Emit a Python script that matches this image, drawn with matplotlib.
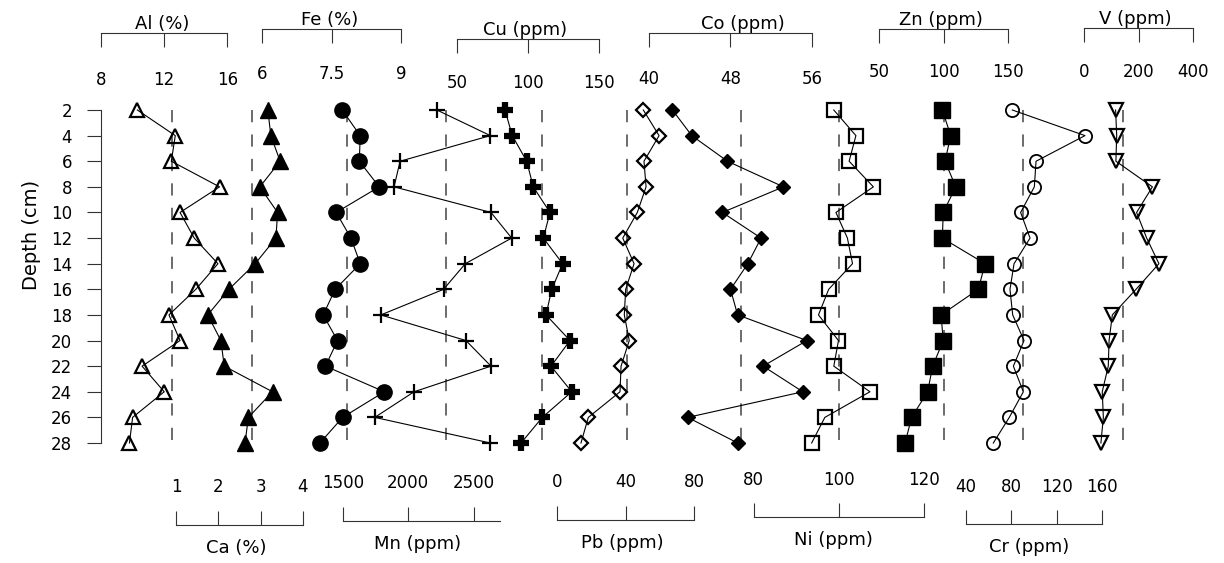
import matplotlib.pyplot as plt

# depth of each sample (cm)
depth = [2, 4, 6, 8, 10, 12, 14, 16, 18, 20, 22, 24, 26, 28]

al = [10.3, 12.7, 12.45, 15.5, 13.0, 13.9, 15.4, 14.0, 12.3, 13.0, 10.6, 12.0, 10.0, 9.8]
ca = [3.17, 3.24, 3.46, 2.98, 3.40, 3.36, 2.87, 2.25, 1.75, 2.06, 2.14, 3.28, 2.71, 2.63]
fe = [7.73, 8.12, 8.10, 8.53, 7.60, 7.92, 8.12, 7.58, 7.32, 7.63, 7.37, 8.64, 7.74, 7.25]
mn = [2219, 2627, 1938, 1892, 2632, 2790, 2436, 2270, 1791, 2441, 2632, 2045, 1745, 2627]
cu = [83.8, 88.9, 99.1, 103.7, 115.5, 110.8, 124.4, 116.7, 112.7, 129.6, 116.2, 130.8, 110.1, 95.1]
pb = [50.4, 59.6, 50.8, 52.0, 46.9, 38.4, 45.0, 40.1, 39.3, 42.2, 37.4, 36.8, 18.3, 14.0]
co = [42.3, 44.2, 47.7, 53.2, 47.2, 51.0, 49.7, 48.0, 48.7, 55.5, 51.2, 55.1, 43.8, 48.7]
ni = [98.8, 104.0, 102.4, 108.1, 99.3, 102.0, 103.2, 97.6, 95.2, 99.9, 98.8, 107.3, 96.7, 93.6]
zn = [99.1, 105.6, 101.2, 109.5, 99.8, 99.1, 132.2, 127.0, 98.1, 99.8, 91.6, 87.7, 75.3, 70.2]
cr = [80.9, 145, 101.8, 100.3, 88.2, 96.5, 82.4, 78.8, 81.2, 91.2, 81.8, 90.6, 78.2, 64.1]
v = [116, 120, 117, 251, 193, 230, 275, 191, 104, 92, 89, 67, 71, 62]

# reference (background) values, dashed lines
ref = {'Al': 12.5, 'Ca': 2.8, 'Fe': 7.83, 'Mn': 2290, 'Cu': 110, 'Pb': 41,
       'Co': 49, 'Ni': 100, 'Zn': 100, 'Cr': 90, 'V': 143}

titles = {'Al': 'Al (%)', 'Ca': 'Ca (%)', 'Fe': 'Fe (%)', 'Mn': 'Mn (ppm)',
          'Cu': 'Cu (ppm)', 'Pb': 'Pb (ppm)', 'Co': 'Co (ppm)', 'Ni': 'Ni (ppm)',
          'Zn': 'Zn (ppm)', 'Cr': 'Cr (ppm)', 'V': 'V (ppm)'}

ticks = {'Al': [8, 12, 16], 'Ca': [1, 2, 3, 4], 'Fe': [6, 7.5, 9],
         'Mn': [1500, 2000, 2500], 'Cu': [50, 100, 150], 'Pb': [0, 40, 80],
         'Co': [40, 48, 56], 'Ni': [80, 100, 120], 'Zn': [50, 100, 150],
         'Cr': [40, 80, 120, 160], 'V': [0, 200, 400]}

series = [('Al', al), ('Ca', ca), ('Fe', fe), ('Mn', mn), ('Cu', cu), ('Pb', pb),
          ('Co', co), ('Ni', ni), ('Zn', zn), ('Cr', cr), ('V', v)]

# layout: side of scale, pixel anchors (value, px), bracket line y (px),
# bracket bounds, label pad (px), title centre (data)
lay = {
    'Al': dict(side='top', a=((8, 96), (16, 223)), line=33, b=(8, 16), pad=24, tx=11.9),
    'Fe': dict(side='top', a=((6, 262), (9, 401)), line=29, b=(6, 9), pad=22, tx=7.47),
    'Cu': dict(side='top', a=((50, 457), (150, 599)), line=39, b=(50, 150), pad=21, tx=97.9),
    'Co': dict(side='top', a=((40, 649), (56, 812)), line=33, b=(40, 56), pad=23, tx=49.2),
    'Zn': dict(side='top', a=((50, 879), (150, 1008)), line=29, b=(50, 150), pad=20, tx=97.7),
    'V': dict(side='top', a=((0, 1084), (400, 1193)), line=28, b=(0, 400), pad=21, tx=187),
    'Ca': dict(side='bottom', a=((1, 176), (4, 303)), line=525, b=(1, 4), pad=15, tx=2.42),
    'Mn': dict(side='bottom', a=((1500, 342.7), (2500, 473.7)), line=521, b=(1500, 2700), pad=15, tx=2075),
    'Pb': dict(side='bottom', a=((0, 557), (80, 694)), line=520, b=(0, 80), pad=15, tx=38),
    'Ni': dict(side='bottom', a=((80, 753.8), (120, 924)), line=517, b=(80, 120), pad=14, tx=98.6),
    'Cr': dict(side='bottom', a=((40, 966), (160, 1102)), line=524, b=(40, 160), pad=14, tx=96),
}

style = {
    'Al': dict(marker='^', ms=10, mfc='none', mew=1.6),
    'Ca': dict(marker='^', ms=11, mfc='black'),
    'Fe': dict(marker='o', ms=11, mfc='black'),
    'Mn': dict(marker='+', ms=12, mew=1.6),
    'Cu': dict(marker='+', ms=11, mew=4.5),
    'Pb': dict(marker='D', ms=6.8, mfc='none', mew=1.6),
    'Co': dict(marker='D', ms=7.6, mfc='black'),
    'Ni': dict(marker='s', ms=10, mfc='none', mew=1.6),
    'Zn': dict(marker='s', ms=11, mfc='black'),
    'Cr': dict(marker='o', ms=9.5, mfc='none', mew=1.3),
    'V': dict(marker='v', ms=10, mfc='none', mew=1.6),
}

W, H = 1224, 563
PT = 0.72  # points per pixel at 100 dpi
L, R, T, B = 101, 1215, 100, 453
rect = [L / W, 1 - B / H, (R - L) / W, (B - T) / H]
pxd = (443 - 110) / 26
ylim = (28 + (B - 443) / pxd, 2 - (110 - T) / pxd)
axc = '#333333'

fig = plt.figure(figsize=(W / 100, H / 100), dpi=100)

base = fig.add_axes(rect)
base.set_ylim(ylim)
base.set_xticks([])
for s in ['top', 'right', 'bottom']:
    base.spines[s].set_visible(False)
base.spines['left'].set_bounds(2, 28)
base.spines['left'].set_color(axc)
base.set_yticks(depth)
base.tick_params(axis='y', length=14 * PT, pad=15 * PT, labelsize=12, color=axc)
base.set_ylabel('Depth (cm)', fontsize=14)
base.yaxis.set_label_coords((41 - L) / (R - L), (B - 235) / (B - T))

for name, vals in series:
    p = lay[name]
    ax = fig.add_axes(rect, facecolor='none')
    ax.set_ylim(ylim)
    ax.set_yticks([])
    (v1, p1), (v2, p2) = p['a']
    k = (v2 - v1) / (p2 - p1)
    ax.set_xlim(v1 + (L - p1) * k, v1 + (R - p1) * k)

    ax.vlines(ref[name], 2, 28, colors='#444444', linestyles=(0, (8, 8)), lw=1.1)
    ax.plot(vals, depth, color='black', lw=0.8, mec='black', clip_on=False, **style[name])

    spine = 'bottom' if p['side'] == 'top' else 'top'
    for s in ax.spines:
        ax.spines[s].set_visible(s == spine)
    frac = (B - p['line']) / (B - T)
    ax.spines[spine].set_position(('axes', frac))
    ax.spines[spine].set_bounds(*p['b'])
    ax.spines[spine].set_color(axc)
    ax.xaxis.set_ticks_position(spine)
    ax.set_xticks(ticks[name], [f'{t:g}' for t in ticks[name]])
    ax.tick_params(axis='x', direction='out', length=14 * PT, pad=p['pad'] * PT,
                   labelsize=12, color=axc)

    if p['side'] == 'top':
        ax.annotate(titles[name], xy=(p['tx'], frac), xycoords=('data', 'axes fraction'),
                    xytext=(0, 0), textcoords='offset points', ha='center', va='bottom',
                    fontsize=13, annotation_clip=False)
    else:
        ax.annotate(titles[name], xy=(p['tx'], frac), xycoords=('data', 'axes fraction'),
                    xytext=(0, -14 * PT), textcoords='offset points', ha='center', va='top',
                    fontsize=13, annotation_clip=False)

fig.savefig('out.png', dpi=100)
